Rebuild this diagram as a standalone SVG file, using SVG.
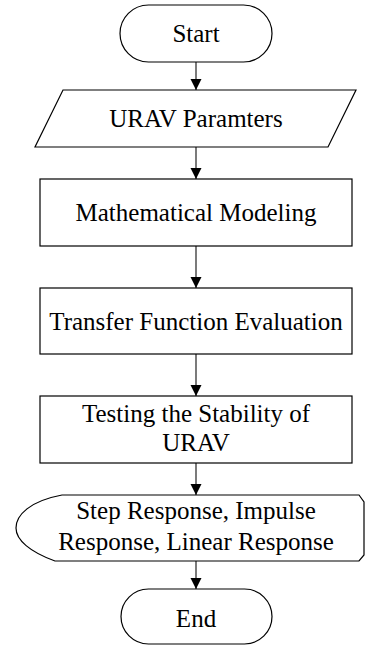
<svg xmlns="http://www.w3.org/2000/svg" width="365" height="645" viewBox="0 0 365 645">
<defs>
<marker id="ah" markerWidth="11" markerHeight="13" refX="11" refY="5.5" orient="auto" markerUnits="userSpaceOnUse">
<path d="M0,0 L11,5.5 L0,11 Z" fill="#000"/>
</marker>
<style>
.s{fill:#fff;stroke:#000;stroke-width:1.2}
.t{font-family:"Liberation Serif","Times New Roman",serif;font-size:25px;fill:#000;text-anchor:middle}
.c{stroke:#333;stroke-width:1.3;fill:none}
</style>
</defs>
<rect width="365" height="645" fill="#fff"/>
<g id="connectors">
<line class="c" x1="196" y1="62" x2="196" y2="90" marker-end="url(#ah)"/>
<line class="c" x1="196" y1="147" x2="196" y2="179" marker-end="url(#ah)"/>
<line class="c" x1="196" y1="246" x2="196" y2="288" marker-end="url(#ah)"/>
<line class="c" x1="196" y1="354" x2="196" y2="396" marker-end="url(#ah)"/>
<line class="c" x1="196" y1="463" x2="196" y2="495" marker-end="url(#ah)"/>
<line class="c" x1="196" y1="561" x2="196" y2="589" marker-end="url(#ah)"/>
</g>
<g id="start">
<rect class="s" x="120" y="5" width="152" height="57" rx="28.5" ry="28.5"/>
<text class="t" x="196" y="42">Start</text>
</g>
<g id="params">
<polygon class="s" points="63,90 356,90 328,147 35,147"/>
<text class="t" x="196" y="127">URAV Paramters</text>
</g>
<g id="modeling">
<rect class="s" x="40" y="179" width="312" height="67"/>
<text class="t" x="196" y="221">Mathematical Modeling</text>
</g>
<g id="transfer">
<rect class="s" x="40" y="288" width="312" height="66"/>
<text class="t" x="196" y="329.5">Transfer Function Evaluation</text>
</g>
<g id="stability">
<rect class="s" x="40" y="396" width="312" height="67"/>
<text class="t" x="196" y="422">Testing the Stability of</text>
<text class="t" x="196" y="451">URAV</text>
</g>
<g id="display">
<path class="s" d="M62,495 L359,495 L364,502 L364,555 L359,561 L55,561 C30,552 16,540 16,528 C16,515 30,501 62,495 Z"/>
<text class="t" x="196" y="519">Step Response, Impulse</text>
<text class="t" x="196" y="550">Response, Linear Response</text>
</g>
<g id="end">
<rect class="s" x="121" y="589" width="151" height="55" rx="27.5" ry="27.5"/>
<text class="t" x="196" y="627">End</text>
</g>
</svg>
